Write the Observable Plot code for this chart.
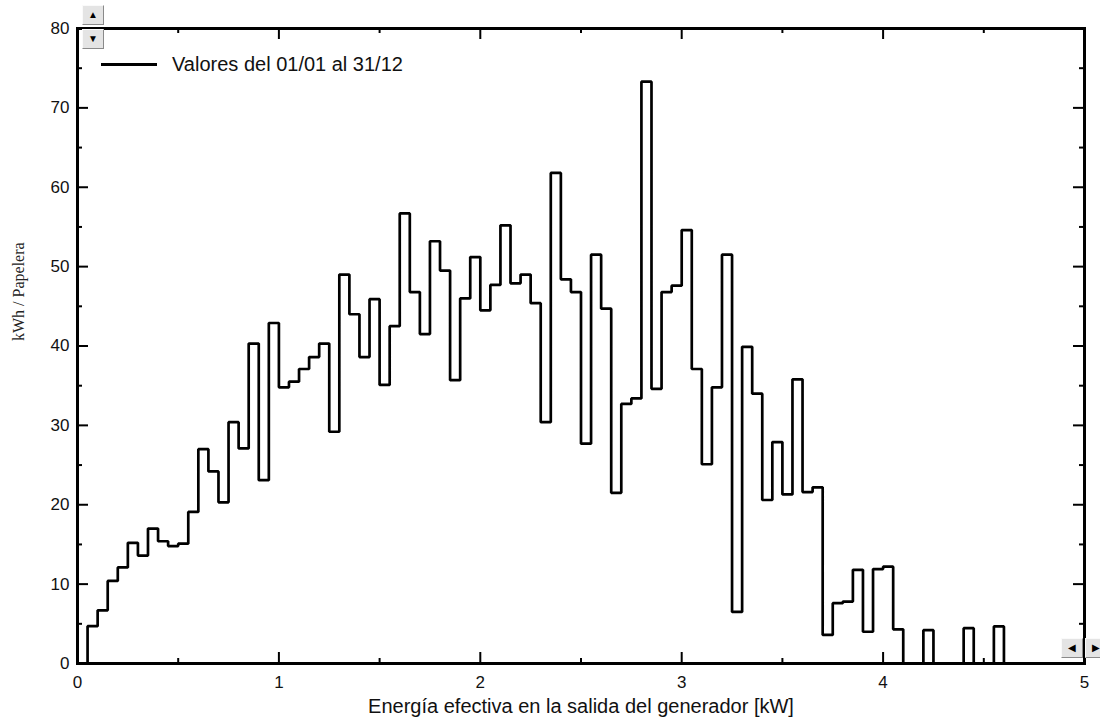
<!DOCTYPE html>
<html><head><meta charset="utf-8">
<script src="https://cdn.jsdelivr.net/npm/d3@7"></script>
<script src="https://cdn.jsdelivr.net/npm/@observablehq/plot@0.6"></script>
<style>
body{margin:0;background:#fff;}
#wrap{position:relative;width:1100px;height:724px;overflow:hidden;font-family:"Liberation Sans",Arial,sans-serif;}
.btn{position:absolute;width:22px;height:20px;background:#e4e4e4;border:1px solid;border-color:#fafafa #8a8a8a #8a8a8a #fafafa;box-sizing:border-box;font-size:10px;line-height:18px;text-align:center;color:#000;}
#legend{position:absolute;left:101px;top:52px;height:24px;display:flex;align-items:center;font-size:20px;color:#111;}
#legend .sw{display:inline-block;width:56px;height:3px;background:#000;margin-right:15px;}
</style></head><body><div id="wrap"></div>
<script>
// Histogram bins: width 0.05 kW starting at 0 kW
const binWidth = 0.05;
const values = [
  0, 4.7, 6.7, 10.4, 12.1, 15.2, 13.6, 17.0, 15.4, 14.8,
  15.1, 19.1, 27.0, 24.2, 20.3, 30.4, 27.1, 40.3, 23.1, 42.9,
  34.8, 35.5, 37.1, 38.6, 40.3, 29.2, 49.0, 44.0, 38.6, 45.9,
  35.1, 42.5, 56.7, 46.8, 41.5, 53.2, 49.5, 35.7, 46.0, 51.2,
  44.5, 47.7, 55.2, 47.9, 49.0, 45.4, 30.4, 61.8, 48.4, 46.8,
  27.7, 51.5, 44.7, 21.5, 32.7, 33.4, 73.3, 34.6, 46.8, 47.6,
  54.6, 37.1, 25.1, 34.8, 51.5, 6.5, 39.9, 34.0, 20.6, 27.9,
  21.3, 35.8, 21.6, 22.2, 3.6, 7.6, 7.8, 11.8, 4.0, 11.9,
  12.2, 4.3, 0, 0, 4.2, 0, 0, 0, 4.45, 0,
  0, 4.67, 0, 0, 0, 0, 0, 0, 0, 0
];
const xTicks = [0, 1, 2, 3, 4, 5];
const xMinor = [0.5, 1.5, 2.5, 3.5, 4.5];
const yTicks = [0, 10, 20, 30, 40, 50, 60, 70, 80];
const yMinor = [5, 15, 25, 35, 45, 55, 65, 75];
const xLabel = "Energía efectiva en la salida del generador [kW]";
const yLabel = "kWh / Papelera";
const legendLabel = "Valores del 01/01 al 31/12";

const points = values.map((v, i) => ({x: i * binWidth, y: v}));
points.push({x: values.length * binWidth, y: values[values.length - 1]});

const W = 1100, H = 724, mL = 77, mR = 16, mT = 28, mB = 61;
const innerW = W - mL - mR, innerH = H - mT - mB;
const major = 11, minor = 5;
const ink = "#000";

const chart = Plot.plot({
  width: W, height: H,
  marginLeft: mL, marginRight: mR, marginTop: mT, marginBottom: mB,
  style: {fontFamily: "'Liberation Sans', Arial, sans-serif", fontSize: "17px", color: "#111", background: "#fff", overflow: "visible"},
  x: {domain: [0, 5], label: null},
  y: {domain: [0, 80], label: null},
  marks: [
    Plot.line(points, {x: "x", y: "y", curve: "step-after", stroke: ink, strokeWidth: 2.7, strokeLinejoin: "miter", strokeLinecap: "square"}),
    Plot.tickX(xTicks, {x: d => d, insetTop: innerH - major, stroke: ink, strokeWidth: 2}),
    Plot.tickX(xTicks, {x: d => d, insetBottom: innerH - major, stroke: ink, strokeWidth: 2}),
    Plot.tickX(xMinor, {x: d => d, insetTop: innerH - minor, stroke: ink, strokeWidth: 2}),
    Plot.tickX(xMinor, {x: d => d, insetBottom: innerH - minor, stroke: ink, strokeWidth: 2}),
    Plot.tickY(yTicks, {y: d => d, insetRight: innerW - major, stroke: ink, strokeWidth: 2}),
    Plot.tickY(yTicks, {y: d => d, insetLeft: innerW - major, stroke: ink, strokeWidth: 2}),
    Plot.tickY(yMinor, {y: d => d, insetRight: innerW - minor, stroke: ink, strokeWidth: 2}),
    Plot.tickY(yMinor, {y: d => d, insetLeft: innerW - minor, stroke: ink, strokeWidth: 2}),
    Plot.frame({stroke: ink, strokeWidth: 3}),
    Plot.axisX(xTicks, {tickSize: 0, tickPadding: 12, fontSize: 17, label: null, tickFormat: d => String(d)}),
    Plot.axisY(yTicks, {tickSize: 0, tickPadding: 8, fontSize: 17, label: null, tickFormat: d => String(d)}),
    Plot.text([xLabel], {frameAnchor: "bottom", dy: 49, fontSize: 20, fill: "#111"}),
    Plot.text([yLabel], {frameAnchor: "left", dx: -59, dy: -5, rotate: -90, fontSize: 16, fill: "#222", fontFamily: "'Liberation Serif', 'Times New Roman', serif"})
  ]
});

const wrap = document.getElementById("wrap");
wrap.appendChild(chart);

const legend = document.createElement("div");
legend.id = "legend";
legend.innerHTML = `<span class="sw"></span><span></span>`;
legend.lastChild.textContent = legendLabel;
wrap.appendChild(legend);

const buttons = [
  {l: 82, t: 5, s: "▲"}, {l: 82, t: 29, s: "▼"},
  {l: 1061, t: 638, s: "◀"}, {l: 1085, t: 638, s: "▶"}
];
for (const b of buttons) {
  const d = document.createElement("div");
  d.className = "btn";
  d.style.left = b.l + "px"; d.style.top = b.t + "px";
  d.textContent = b.s;
  wrap.appendChild(d);
}
</script></body></html>
